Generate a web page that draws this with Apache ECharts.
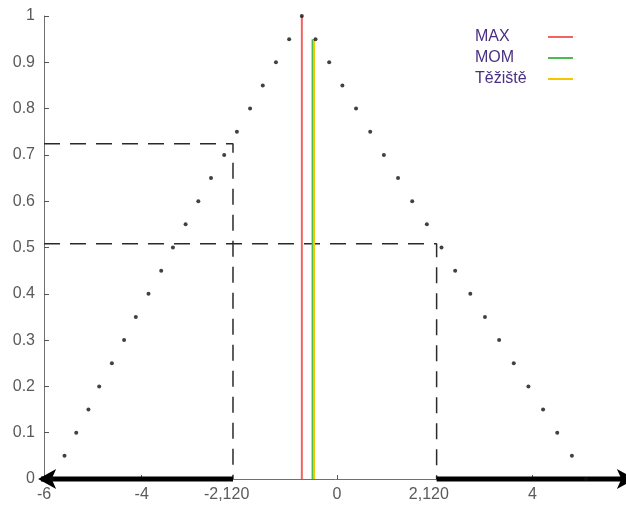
<!DOCTYPE html>
<html>
<head>
<meta charset="utf-8">
<script src="https://cdn.jsdelivr.net/npm/echarts@6/dist/echarts.min.js"></script>
<style>
  html, body { margin: 0; padding: 0; background: #fff; }
  #chart { width: 626px; height: 508px; }
</style>
</head>
<body>
<div id="chart"></div>
<script>
// membership samples, rising side (alpha levels 0 .. 1)
const leftX = [-5.84, -5.58, -5.34, -5.09, -4.87, -4.61, -4.36, -4.12, -3.86, -3.60, -3.36,
  -3.10, -2.84, -2.58, -2.31, -2.05, -1.78, -1.52, -1.25, -0.98, -0.72]
const leftY = [0, 0.05, 0.1, 0.15, 0.2, 0.25, 0.3, 0.35, 0.4, 0.45, 0.5,
  0.55, 0.6, 0.65, 0.7, 0.75, 0.8, 0.85, 0.9, 0.95, 1]
// falling side
const rightX = [-0.44, -0.16, 0.11, 0.39, 0.68, 0.96, 1.25, 1.54, 1.84, 2.14,
  2.42, 2.73, 3.03, 3.32, 3.62, 3.92, 4.22, 4.51, 4.81, 5.10]
const rightY = [0.95, 0.9, 0.85, 0.8, 0.75, 0.7, 0.65, 0.6, 0.55, 0.5,
  0.45, 0.4, 0.35, 0.3, 0.25, 0.2, 0.15, 0.1, 0.05, 0]

// defuzzification results
const methodNames = ['MAX', 'MOM', 'Těžiště']
const methodX = [-0.72, -0.50, -0.47]
const methodTop = [1, 0.95, 0.95]
const methodColors = ['#f06464', '#4cbb50', '#f7c600']

// cut levels and their borders
const cutLevels = [0.724, 0.508]
const cutX = [-2.13, 2.04]
const arrowHeads = [-6.12, 6.1]
const arrowRotate = [90, -90]

// axis labels
const xLabelPos = [-6, -4, -2.26, 0, 1.88, 4, 6]
const xLabels = ['-6', '-4', '-2,120', '0', '2,120', '4', '6']
const xTickPos = [-6, -4, 0, 4, 6]

const font = '"Liberation Sans", Arial, sans-serif'
const chart = echarts.init(document.getElementById('chart'))

const pts = leftX.map((x, i) => [x, leftY[i]]).concat(rightX.map((x, i) => [x, rightY[i]]))

const lineSeries = methodNames.map((name, i) => ({
  name, type: 'line', symbol: 'none', z: 3,
  data: [[methodX[i], 0], [methodX[i], methodTop[i]]],
  itemStyle: { color: methodColors[i] },
  lineStyle: { width: 2, color: methodColors[i] },
}))

const cutSeries = cutLevels.map((lv, i) => ({
  type: 'line', symbol: 'none', z: 2, silent: true,
  data: [[-6, lv], [cutX[i], lv], [cutX[i], 0]],
  lineStyle: { width: 1.5, color: '#2a2a2a', type: [16, 10] },
}))

// thick arrows along the x axis, from the cut borders outwards
const arrowSeries = cutX.map((x, i) => ({
  type: 'line', z: 4, clip: false, silent: true,
  data: [[x, 0], [arrowHeads[i], 0]],
  symbol: (v, p) => (p.dataIndex === 1 ? 'arrow' : 'none'),
  symbolSize: [15, 18],
  symbolRotate: arrowRotate[i],
  showAllSymbol: true,
  itemStyle: { color: '#000' },
  lineStyle: { color: '#000', width: 5 },
}))

chart.setOption({
  animation: false,
  grid: { left: 44, right: -4, top: 16, bottom: 29, outerBoundsMode: 'none', containLabel: false },
  xAxis: {
    type: 'value', min: -6, max: 6,
    axisLine: { onZero: false, lineStyle: { color: '#707070', width: 1 } },
    axisTick: { inside: true, length: 4, customValues: xTickPos, lineStyle: { color: '#555' } },
    splitLine: { show: false },
    axisLabel: {
      customValues: xLabelPos, margin: 8, hideOverlap: false,
      color: '#5a5a5a', fontSize: 16, fontFamily: font,
      formatter: v => xLabels[xLabelPos.indexOf(v)],
    },
  },
  yAxis: {
    type: 'value', min: 0, max: 1, interval: 0.1,
    axisLine: { show: true, onZero: false, lineStyle: { color: '#707070', width: 1 } },
    axisTick: { show: true, inside: true, length: 5, lineStyle: { color: '#555' } },
    splitLine: { show: false },
    axisLabel: { color: '#5a5a5a', fontSize: 16, fontFamily: font, margin: 9 },
  },
  legend: {
    data: methodNames,
    orient: 'vertical', right: 48, top: 24,
    align: 'right', icon: 'rect',
    itemWidth: 25, itemHeight: 2, itemGap: 5,
    formatter: n => '{t|' + n + '}',
    textStyle: {
      rich: { t: { width: 68, align: 'left', fontSize: 16, lineHeight: 16, color: '#4a3080', fontFamily: font } },
    },
  },
  series: [
    ...cutSeries,
    ...lineSeries,
    ...arrowSeries,
    {
      type: 'scatter', symbolSize: 4, z: 5,
      itemStyle: { color: '#111' },
      data: pts,
    },
  ],
})
</script>
</body>
</html>
